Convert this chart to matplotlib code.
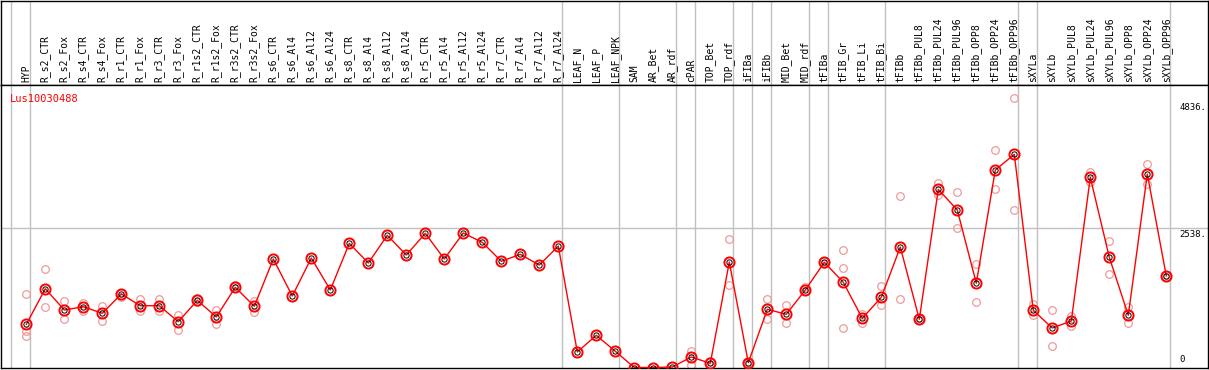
import numpy as np
import matplotlib.pyplot as plt

gene = "Lus10030488"

labels = ["HYP", "R_s2_CTR", "R_s2_Fox", "R_s4_CTR", "R_s4_Fox", "R_r1_CTR", "R_r1_Fox",
          "R_r3_CTR", "R_r3_Fox", "R_r1s2_CTR", "R_r1s2_Fox", "R_r3s2_CTR", "R_r3s2_Fox",
          "R_s6_CTR", "R_s6_Al4", "R_s6_Al12", "R_s6_Al24", "R_s8_CTR", "R_s8_Al4",
          "R_s8_Al12", "R_s8_Al24", "R_r5_CTR", "R_r5_Al4", "R_r5_Al12", "R_r5_Al24",
          "R_r7_CTR", "R_r7_Al4", "R_r7_Al12", "R_r7_Al24", "LEAF_N", "LEAF_P", "LEAF_NPK",
          "SAM", "AR_Bet", "AR_rdf", "cPAR", "TOP_Bet", "TOP_rdf", "iFIBa", "iFIBb",
          "MID_Bet", "MID_rdf", "tFIBa", "tFIB_Gr", "tFIB_Li", "tFIB_Bi", "tFIBb",
          "tFIBb_PUL8", "tFIBb_PUL24", "tFIBb_PUL96", "tFIBb_OPP8", "tFIBb_OPP24",
          "tFIBb_OPP96", "sXYLa", "sXYLb", "sXYLb_PUL8", "sXYLb_PUL24", "sXYLb_PUL96",
          "sXYLb_OPP8", "sXYLb_OPP24", "sXYLb_OPP96"]

means = [786, 1433, 1046, 1106, 986, 1337, 1124, 1124, 833, 1222, 919, 1459, 1113,
         1974, 1301, 1992, 1410, 2259, 1901, 2405, 2046, 2441, 1974, 2447, 2277,
         1932, 2059, 1864, 2210, 282, 586, 295, 0, 0, 8, 191, 76, 1919, 87, 1059,
         968, 1410, 1914, 1550, 895, 1277, 2192, 877, 3241, 2865, 1532, 3593, 3878,
         1040, 718, 846, 3460, 2005, 950, 3520, 1664]

reps = [[1337, 664, 568], [1786, 1095], [1210, 877], [1179, 1033], [1119, 851],
        [1361, 1277], [1246, 1033], [1241, 1033], [955, 677], [1259, 1200], [1040, 786],
        [1495, 1440], [1215, 1015],
        [], [], [], [], [], [], [], [], [], [], [], [], [], [], [], [],
        [], [], [], [], [], [],
        [306, 51], [113, 51], [2337, 1495], [95, 80], [1241, 888], [1137, 804],
        [1459, 1390], [1877, 1935], [2132, 1804, 713], [968, 815], [1477, 1137],
        [3114, 1241], [900, 865], [3356, 3132], [3187, 2532], [1877, 1191],
        [3951, 3241], [4897, 2859], [1150, 950], [1046, 386], [937, 755],
        [3562, 3369], [2296, 1701], [1095, 804], [3696, 3338], [1680, 1650]]

# last column of each group (-1 = left edge of the first group)
group_ends = [-1, 0, 28, 31, 34, 35, 37, 38, 39, 41, 42, 45, 52, 53, 60]
ytick_vals = [0, 2538, 4836]

W, H = 1209, 370
fig = plt.figure(figsize=(W / 100, H / 100), dpi=100)
plt.rcParams['font.family'] = 'DejaVu Sans Mono'

px_left, px_right = 1, 1208
split = 85
bottom = 367.5
ax_top = fig.add_axes([px_left / W, 1 - split / H, (px_right - px_left) / W, (split - 0.6) / H])
ax = fig.add_axes([px_left / W, (H - bottom) / H, (px_right - px_left) / W, (bottom - split) / H])

xlim = ((px_left - 26.3) / 19, (px_right - 26.3) / 19)
ymax = (bottom - split) * 2538 / (bottom - 228)

for a in (ax_top, ax):
    a.set_xlim(*xlim)
    a.set_xticks([])
    a.set_yticks([])
    for s in a.spines.values():
        s.set_linewidth(1.0)
        s.set_color("black")
    for g in group_ends:
        a.axvline(g + 0.21, color="#c0c0c0", lw=1.0, zorder=0)
ax_top.set_ylim(0, 1)
ax.set_ylim(0, ymax)

x = np.arange(len(labels))
for i, lab in enumerate(labels):
    ax_top.text(i, 0.03, lab, rotation=90, ha="center", va="bottom", fontsize=7)

ax.axhline(2538, color="#c0c0c0", lw=1.0, zorder=0)

# replicate samples
for i, r in enumerate(reps):
    if r:
        ax.plot([i] * len(r), r, "o", ms=5.5, mfc="none", mec="#f09a9a", mew=0.9, zorder=2)

ax.plot(x, means, "-", color="red", lw=1.0, zorder=3)
ax.plot(x, means, "o", ms=7.3, mfc="none", mec="red", mew=1.4, zorder=4)
ax.plot(x, means, "o", ms=3.8, mfc="none", mec="black", mew=0.7, zorder=5)

ax.text(0.007, 0.95, gene, color="red", fontsize=7.5, transform=ax.transAxes,
        ha="left", va="center")

for v in ytick_vals:
    if v == 0:
        ax.text((1179 - px_left) / (px_right - px_left), v + 60, "0", fontsize=6.5,
                ha="left", va="bottom", transform=ax.get_yaxis_transform())
    else:
        ax.text((1206 - px_left) / (px_right - px_left), v - 30, f"{v}.", fontsize=6.5,
                ha="right", va="top", transform=ax.get_yaxis_transform())

fig.savefig("out.png", dpi=100)
